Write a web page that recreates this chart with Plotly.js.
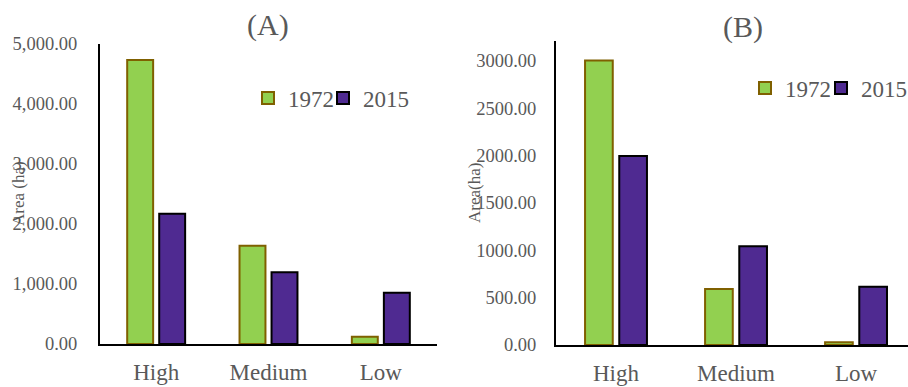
<!DOCTYPE html>
<html>
<head>
<meta charset="utf-8">
<script src="https://cdn.plot.ly/plotly-3.0.1.min.js"></script>
<style>
  html, body { margin: 0; padding: 0; background: #fff; }
  #chart { width: 908px; height: 387px; }
</style>
</head>
<body>
<div id="chart"></div>
<script>
// Area (ha) by class, 1972 vs 2015, for two study zones
const classes = ['High', 'Medium', 'Low'];
const zoneA1972 = [4733, 1638, 122];
const zoneA2015 = [2172, 1195, 855];
const zoneB1972 = [3000, 591, 28];
const zoneB2015 = [1994, 1041, 615];

const W = 908, H = 387;
const SERIF = '"Liberation Serif", "Times New Roman", serif';
const GREY = '#595959';
const GREEN = '#92D050', GREEN_EDGE = '#7F6000';
const PURPLE = '#4F2A91', PURPLE_EDGE = '#000000';

const px = v => v / W;
const py = v => (H - v) / H;

function bars(name, x, y, fill, edge, xa, ya, legend, entryW) {
  return {
    type: 'bar', name: name, x: x, y: y,
    xaxis: xa, yaxis: ya, legend: legend, legendwidth: entryW,
    marker: { color: fill, line: { color: edge, width: 2 } },
    hoverinfo: 'skip'
  };
}

const data = [
  bars('1972', classes, zoneA1972, GREEN, GREEN_EDGE, 'x', 'y', 'legend', 30),
  bars('2015', classes, zoneA2015, PURPLE, PURPLE_EDGE, 'x', 'y', 'legend', 55),
  bars('1972', classes, zoneB1972, GREEN, GREEN_EDGE, 'x2', 'y2', 'legend2', 31),
  bars('2015', classes, zoneB2015, PURPLE, PURPLE_EDGE, 'x2', 'y2', 'legend2', 46.5)
];

const catAxis = (domain, range, anchor) => ({
  domain: domain, range: range, anchor: anchor,
  type: 'category', showline: true, linecolor: '#000', linewidth: 2,
  showgrid: false, zeroline: false,
  ticks: 'outside', ticklen: 6, tickcolor: 'rgba(0,0,0,0)',
  tickfont: { family: SERIF, size: 23, color: GREY },
  fixedrange: true
});

const valAxis = (domain, range, dtick, fmt, standoff, anchor) => ({
  domain: domain, range: range, anchor: anchor,
  showline: true, linecolor: '#000', linewidth: 2,
  showgrid: false, zeroline: false,
  tick0: 0, dtick: dtick, tickformat: fmt,
  ticks: 'outside', ticklen: standoff, tickcolor: 'rgba(0,0,0,0)',
  tickfont: { family: SERIF, size: 18.5, color: GREY },
  fixedrange: true
});

const legendBase = {
  orientation: 'h', xanchor: 'left', yanchor: 'middle',
  font: { family: SERIF, size: 23, color: GREY },
  bgcolor: 'rgba(0,0,0,0)', borderwidth: 0,
  itemwidth: 30, traceorder: 'normal'
};

const layout = {
  width: W, height: H,
  margin: { l: 0, r: 0, t: 0, b: 0, autoexpand: false },
  paper_bgcolor: '#fff', plot_bgcolor: 'rgba(0,0,0,0)',
  barmode: 'group', bargap: 0.43, bargroupgap: 0.19,
  xaxis: catAxis([px(100), px(437)], [-0.5, 2.5], 'y'),
  yaxis: valAxis([py(344), py(44)], [0, 5000], 1000, ',.2f', 17, 'x'),
  xaxis2: catAxis([px(556), 1], [-0.5, 2.433], 'y2'),
  yaxis2: valAxis([py(345), py(41)], [0, 3207], 500, '.2f', 14, 'x2'),
  legend: Object.assign({}, legendBase, { x: px(248), y: py(98) }),
  legend2: Object.assign({}, legendBase, { x: px(745), y: py(88) }),
  annotations: [
    { text: '(A)', x: px(268), y: py(25), xref: 'paper', yref: 'paper',
      showarrow: false, xanchor: 'center', yanchor: 'middle',
      font: { family: SERIF, size: 30, color: GREY } },
    { text: '(B)', x: px(743), y: py(27), xref: 'paper', yref: 'paper',
      showarrow: false, xanchor: 'center', yanchor: 'middle',
      font: { family: SERIF, size: 30, color: GREY } },
    { text: 'Area (ha)', x: px(19), y: py(194), xref: 'paper', yref: 'paper',
      showarrow: false, textangle: -90, xanchor: 'center', yanchor: 'middle',
      font: { family: SERIF, size: 17, color: GREY } },
    { text: 'Area(ha)', x: px(475), y: py(193), xref: 'paper', yref: 'paper',
      showarrow: false, textangle: -90, xanchor: 'center', yanchor: 'middle',
      font: { family: SERIF, size: 17, color: GREY } }
  ]
};

Plotly.newPlot('chart', data, layout, { staticPlot: true, displayModeBar: false });
</script>
</body>
</html>
